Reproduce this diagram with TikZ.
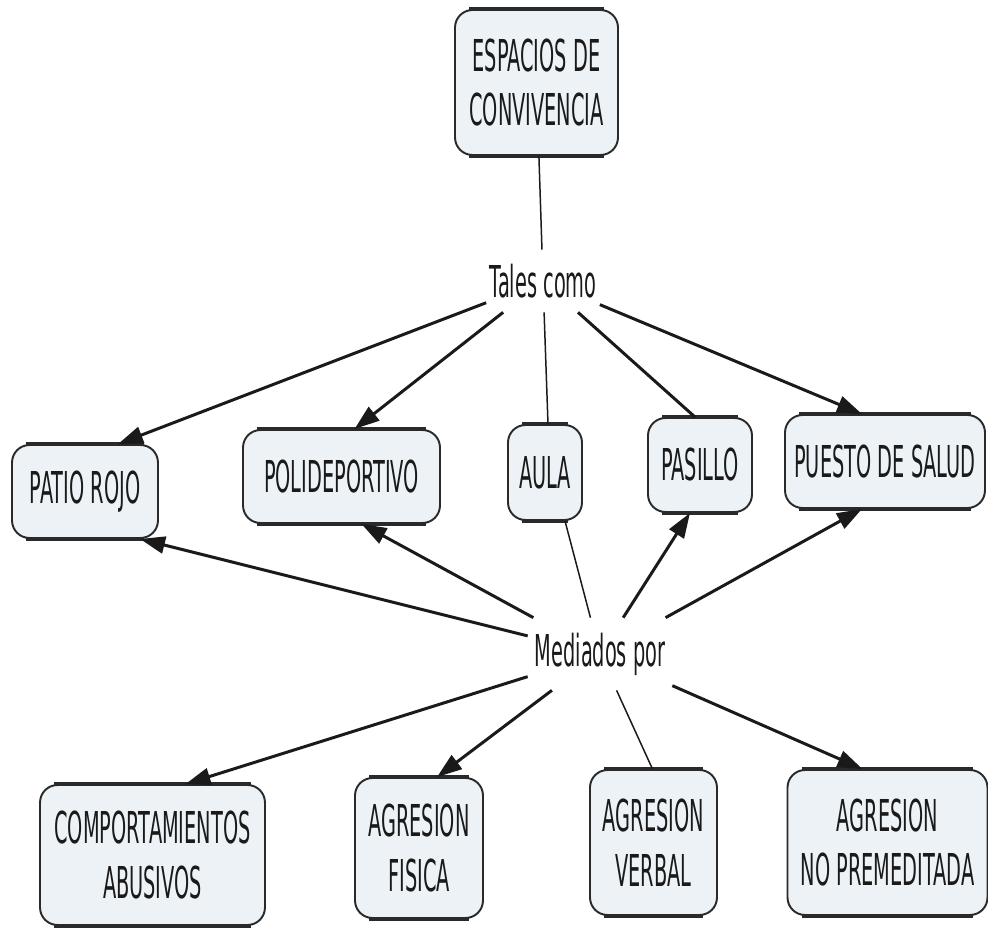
\documentclass[tikz,border=0pt]{standalone}
\usepackage{fontspec}
\setmainfont[FakeStretch=0.44]{DejaVu Sans}
\usetikzlibrary{arrows.meta,calc}
\definecolor{boxfill}{HTML}{ECF2F5}
\definecolor{boxline}{HTML}{2A2A2A}
\definecolor{textc}{HTML}{1A1A1A}
\begin{document}
\begin{tikzpicture}[x=0.02cm,y=-0.02cm,
  concept/.style={draw=boxline, line width=1.1pt, fill=boxfill, rounded corners=0.35cm,
    align=center, inner sep=0pt, font=\fontsize{25}{31}\selectfont, text=textc},
  linkphrase/.style={inner sep=0pt, font=\fontsize{25}{31}\selectfont, text=textc},
  edgeline/.style={draw=boxline, line width=1.9pt},
  thinline/.style={draw=textc, line width=0.85pt},
  thickline/.style={draw=textc, line width=1.7pt},
  arrowline/.style={draw=textc, line width=1.7pt, -{Triangle[length=0.5cm,width=0.34cm]}}]
\useasboundingbox (0,0) rectangle (988,930);
% concepts
\node[concept, minimum width=3.26cm, minimum height=2.9cm] (esp) at (536.5,82.5) {ESPACIOS DE\\CONVIVENCIA};
\node[concept, minimum width=2.92cm, minimum height=1.86cm] (patio) at (85,491.5) {PATIO ROJO};
\node[concept, minimum width=3.94cm, minimum height=1.86cm] (poli) at (341.5,476.5) {POLIDEPORTIVO};
\node[concept, minimum width=1.48cm, minimum height=1.9cm] (aula) at (545,472.5) {AULA};
\node[concept, minimum width=2.08cm, minimum height=1.88cm] (pasillo) at (700,465) {PASILLO};
\node[concept, minimum width=4.0cm, minimum height=1.86cm] (puesto) at (885,461.5) {PUESTO DE SALUD};
\node[concept, minimum width=4.5cm, minimum height=2.8cm] (comp) at (152.5,855) {COMPORTAMIENTOS\\ABUSIVOS};
\node[concept, minimum width=2.56cm, minimum height=2.8cm] (fisica) at (419,848) {AGRESION\\FISICA};
\node[concept, minimum width=2.54cm, minimum height=2.9cm] (verbal) at (653.5,842.5) {AGRESION\\VERBAL};
\node[concept, minimum width=4.0cm, minimum height=2.9cm] (noprem) at (887.5,842.5) {AGRESION\\NO PREMEDITADA};
% thicker horizontal edges
\foreach \n in {esp,patio,poli,aula,pasillo,puesto,comp,fisica,verbal,noprem}{
  \draw[edgeline] ([xshift=0.3cm]\n.north west) -- ([xshift=-0.3cm]\n.north east);
  \draw[edgeline] ([xshift=0.3cm]\n.south west) -- ([xshift=-0.3cm]\n.south east);
}
% linking phrases
\node[linkphrase, minimum width=2.26cm, minimum height=1.24cm] (tales) at (543,281) {Tales como};
\node[linkphrase, minimum width=2.88cm, minimum height=1.44cm] (med) at (600,654) {Mediados por};
% connectors
\draw[thinline] (esp) -- (tales);
\draw[arrowline] (tales) -- ($(patio.north)+(33,0)$);
\draw[arrowline] (tales) -- ($(poli.north)+(13,0)$);
\draw[thinline] (tales) -- ($(aula.north)+(3,0)$);
\draw[thickline] (tales) -- ($(pasillo.north)+(-5,0)$);
\draw[arrowline] (tales) -- ($(puesto.north)+(-23,0)$);
\draw[arrowline] (med) -- ($(patio.south)+(55,0)$);
\draw[arrowline] (med) -- ($(poli.south)+(20,0)$);
\draw[thinline] (med) -- ($(aula.south)+(20,0)$);
\draw[arrowline] (med) -- ($(pasillo.south)+(-10,0)$);
\draw[arrowline] (med) -- ($(puesto.south)+(-23,0)$);
\draw[arrowline] (med) -- ($(comp.north)+(33,0)$);
\draw[arrowline] (med) -- ($(fisica.north)+(18,0)$);
\draw[thinline] (med) -- ($(verbal.north)+(-1,0)$);
\draw[arrowline] (med) -- ($(noprem.north)+(-25,0)$);
\end{tikzpicture}
\end{document}
